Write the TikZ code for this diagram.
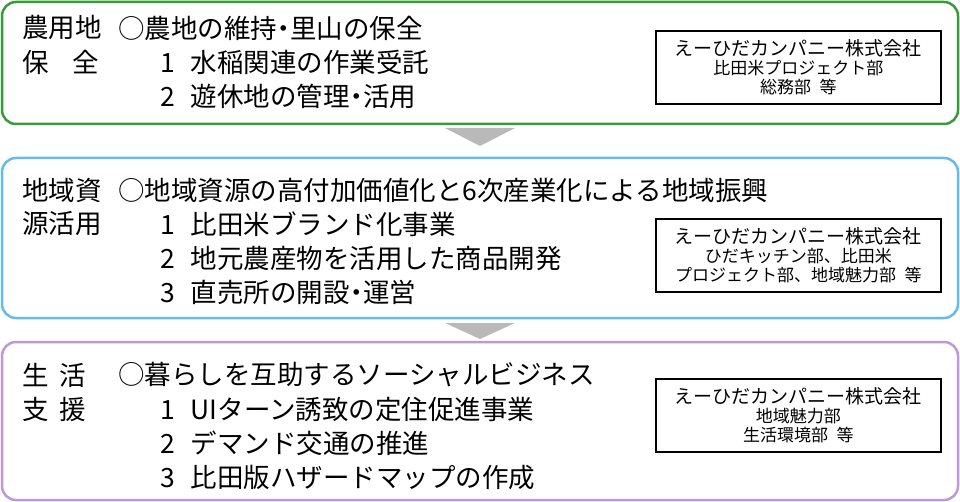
\documentclass[tikz,border=0pt]{standalone}
\usepackage{fontspec}
\setmainfont{Noto Sans CJK JP}
\begin{document}
\begin{tikzpicture}[x=1pt,y=-1pt,
  sec/.style={draw,line width=2.5pt,rounded corners=14pt},
  txt/.style={anchor=west,inner sep=0pt,font=\fontsize{26.5}{28}\selectfont},
  org/.style={draw,line width=1.6pt,minimum width=285pt,minimum height=73pt,align=center,font=\fontsize{19}{21}\selectfont,anchor=north west,inner sep=2pt},
  tri/.style={fill=gray!55,draw=none}]
\useasboundingbox (0,0) rectangle (960,502);
\definecolor{g}{HTML}{3A9A3A}\definecolor{b}{HTML}{66BBEE}\definecolor{p}{HTML}{BB99DD}
\newcommand{\sm}[1]{{\fontsize{17}{20}\selectfont #1}}
\draw[sec,g] (2,2) rectangle (958,124);
\draw[sec,b] (2,158) rectangle (958,318);
\draw[sec,p] (2,342) rectangle (958,500);
\fill[tri] (445,128) -- (515,128) -- (480,146) -- cycle;
\fill[tri] (445,323) -- (515,323) -- (480,339) -- cycle;
% section 1
\node[txt] (a1) at (22,28) {農用地};
\node[txt] (a2) at (22,62) {保\hspace{0.9em}全};
\node[txt] (a3) at (118,28) {○農地の維持\hspace{-0.25em}・\hspace{-0.25em}里山の保全};
\node[txt] (a4) at (160,62) {1\hspace{0.6em}水稲関連の作業受託};
\node[txt] (a5) at (160,96) {2\hspace{0.6em}遊休地の管理\hspace{-0.25em}・\hspace{-0.25em}活用};
\node[org] (o1) at (655,30) {えーひだカンパニー株式会社\\[-2pt]\sm{比田米プロジェクト部}\\[-2pt]\sm{総務部\hspace{0.5em}等}};
% section 2
\node[txt] (b1) at (22,190) {地域資};
\node[txt] (b2) at (22,224) {源活用};
\node[txt] (b3) at (118,190) {○地域資源の高付加価値化と6次産業化による地域振興};
\node[txt] (b4) at (160,224) {1\hspace{0.6em}比田米ブランド化事業};
\node[txt] (b5) at (160,258) {2\hspace{0.6em}地元農産物を活用した商品開発};
\node[txt] (b6) at (160,292) {3\hspace{0.6em}直売所の開設\hspace{-0.25em}・\hspace{-0.25em}運営};
\node[org] (o2) at (655,218) {えーひだカンパニー株式会社\\[-2pt]\sm{ひだキッチン部、比田米}\\[-2pt]\sm{プロジェクト部、地域魅力部\hspace{0.5em}等}};
% section 3
\node[txt] (c1) at (22,375) {生\hspace{0.4em}活};
\node[txt] (c2) at (22,409) {支\hspace{0.4em}援};
\node[txt] (c3) at (118,375) {○暮らしを互助するソーシャルビジネス};
\node[txt] (c4) at (160,409) {1\hspace{0.6em}UIターン誘致の定住促進事業};
\node[txt] (c5) at (160,443) {2\hspace{0.6em}デマンド交通の推進};
\node[txt] (c6) at (160,477) {3\hspace{0.6em}比田版ハザードマップの作成};
\node[org] (o3) at (655,378) {えーひだカンパニー株式会社\\[-2pt]\sm{地域魅力部}\\[-2pt]\sm{生活環境部\hspace{0.5em}等}};
\end{tikzpicture}
\end{document}
